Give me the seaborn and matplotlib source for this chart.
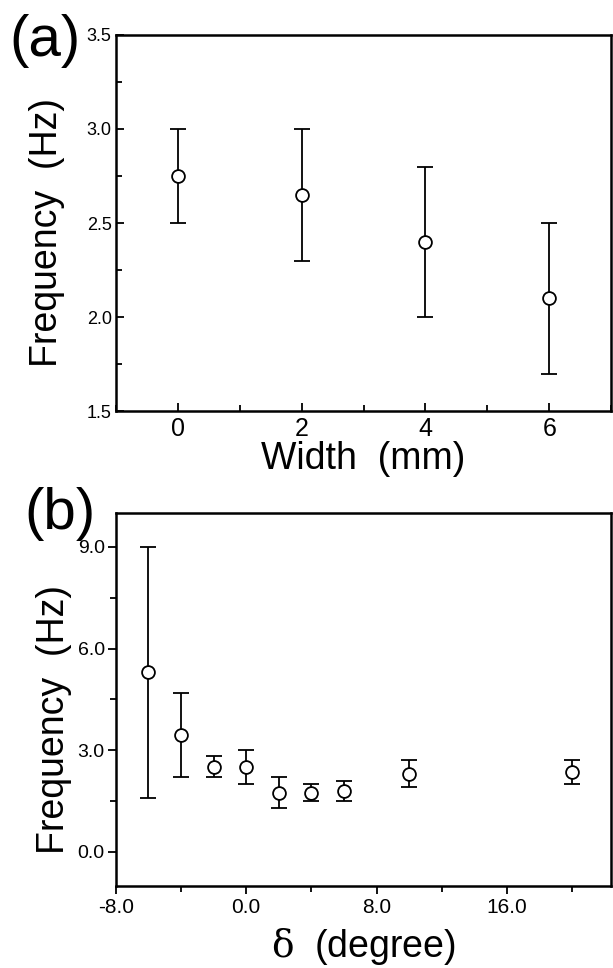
import numpy as np
import pandas as pd
import matplotlib
matplotlib.use("Agg")
import matplotlib.pyplot as plt
import seaborn as sns
from matplotlib.ticker import MultipleLocator, FormatStrFormatter

# panel (a): frequency vs width
width_mm = [0, 2, 4, 6]
freq_a = [2.75, 2.65, 2.40, 2.10]
freq_a_low = [2.50, 2.30, 2.00, 1.70]
freq_a_high = [3.00, 3.00, 2.80, 2.50]

# panel (b): frequency vs delta
delta_deg = [-6, -4, -2, 0, 2, 4, 6, 10, 20]
freq_b = [5.30, 3.45, 2.50, 2.50, 1.75, 1.75, 1.80, 2.30, 2.35]
freq_b_low = [1.60, 2.20, 2.20, 2.00, 1.30, 1.50, 1.50, 1.90, 2.00]
freq_b_high = [9.00, 4.70, 2.83, 3.00, 2.20, 2.00, 2.10, 2.70, 2.70]

sns.set_style("ticks")
plt.rcParams["font.family"] = ["Liberation Sans", "DejaVu Sans"]
plt.rcParams["mathtext.fontset"] = "dejavuserif"
for key in ["text.color", "axes.labelcolor", "xtick.color", "ytick.color"]:
    plt.rcParams[key] = "black"

fig = plt.figure(figsize=(6.13, 9.68), dpi=100)
ax1 = fig.add_axes([0.189, 0.575, 0.808, 0.389])
ax2 = fig.add_axes([0.189, 0.085, 0.808, 0.385])


def draw_panel(ax, x, y, lo, hi):
    y = np.array(y)
    yerr = [y - np.array(lo), np.array(hi) - y]
    ax.errorbar(x, y, yerr=yerr, fmt="none", ecolor="black",
                elinewidth=1.3, capsize=5.5, capthick=1.3, zorder=2)
    df = pd.DataFrame({"x": x, "y": y})
    sns.scatterplot(data=df, x="x", y="y", ax=ax, marker="o", s=85,
                    facecolor="white", edgecolor="black", linewidth=1.3,
                    zorder=3)
    for side in ax.spines.values():
        side.set_linewidth(1.8)
        side.set_color("black")
    ax.set_xlabel("")
    ax.set_ylabel("")


# (a)
draw_panel(ax1, width_mm, freq_a, freq_a_low, freq_a_high)
ax1.set_xlim(-1, 7)
ax1.set_ylim(1.5, 3.5)
ax1.xaxis.set_major_locator(MultipleLocator(2))
ax1.xaxis.set_minor_locator(MultipleLocator(1))
ax1.yaxis.set_major_locator(MultipleLocator(0.5))
ax1.yaxis.set_minor_locator(MultipleLocator(0.25))
ax1.yaxis.set_major_formatter(FormatStrFormatter("%.1f"))
ax1.tick_params(which="both", direction="in", width=1.3)
ax1.tick_params(which="major", length=6)
ax1.tick_params(which="minor", length=4)
ax1.tick_params(axis="x", labelsize=18, pad=4)
ax1.tick_params(axis="y", labelsize=13, pad=3)
ax1.set_xlabel("Width  (mm)", fontsize=27, labelpad=0)
ax1.set_ylabel("Frequency  (Hz)", fontsize=27)
ax1.yaxis.set_label_coords(-0.102, 0.476)
fig.text(0.015, 0.986, "(a)", fontsize=42, ha="left", va="top")

# (b)
draw_panel(ax2, delta_deg, freq_b, freq_b_low, freq_b_high)
ax2.set_xlim(-8, 22.4)
ax2.set_ylim(-1, 10)
ax2.xaxis.set_major_locator(MultipleLocator(8))
ax2.xaxis.set_minor_locator(MultipleLocator(4))
ax2.xaxis.set_major_formatter(FormatStrFormatter("%.1f"))
ax2.yaxis.set_major_locator(MultipleLocator(3))
ax2.yaxis.set_minor_locator(MultipleLocator(1.5))
ax2.yaxis.set_major_formatter(FormatStrFormatter("%.1f"))
ax2.tick_params(which="both", direction="out", width=1.3)
ax2.tick_params(which="major", length=6)
ax2.tick_params(which="minor", length=4)
ax2.tick_params(axis="x", labelsize=15, pad=3)
ax2.tick_params(axis="y", labelsize=14, pad=2)
ax2.set_xlabel(r"$\mathrm{\delta}$  (degree)", fontsize=27, labelpad=6)
ax2.set_ylabel("Frequency  (Hz)", fontsize=27)
ax2.yaxis.set_label_coords(-0.089, 0.445)
fig.text(0.04, 0.497, "(b)", fontsize=42, ha="left", va="top")

fig.savefig("out.png", dpi=100)
